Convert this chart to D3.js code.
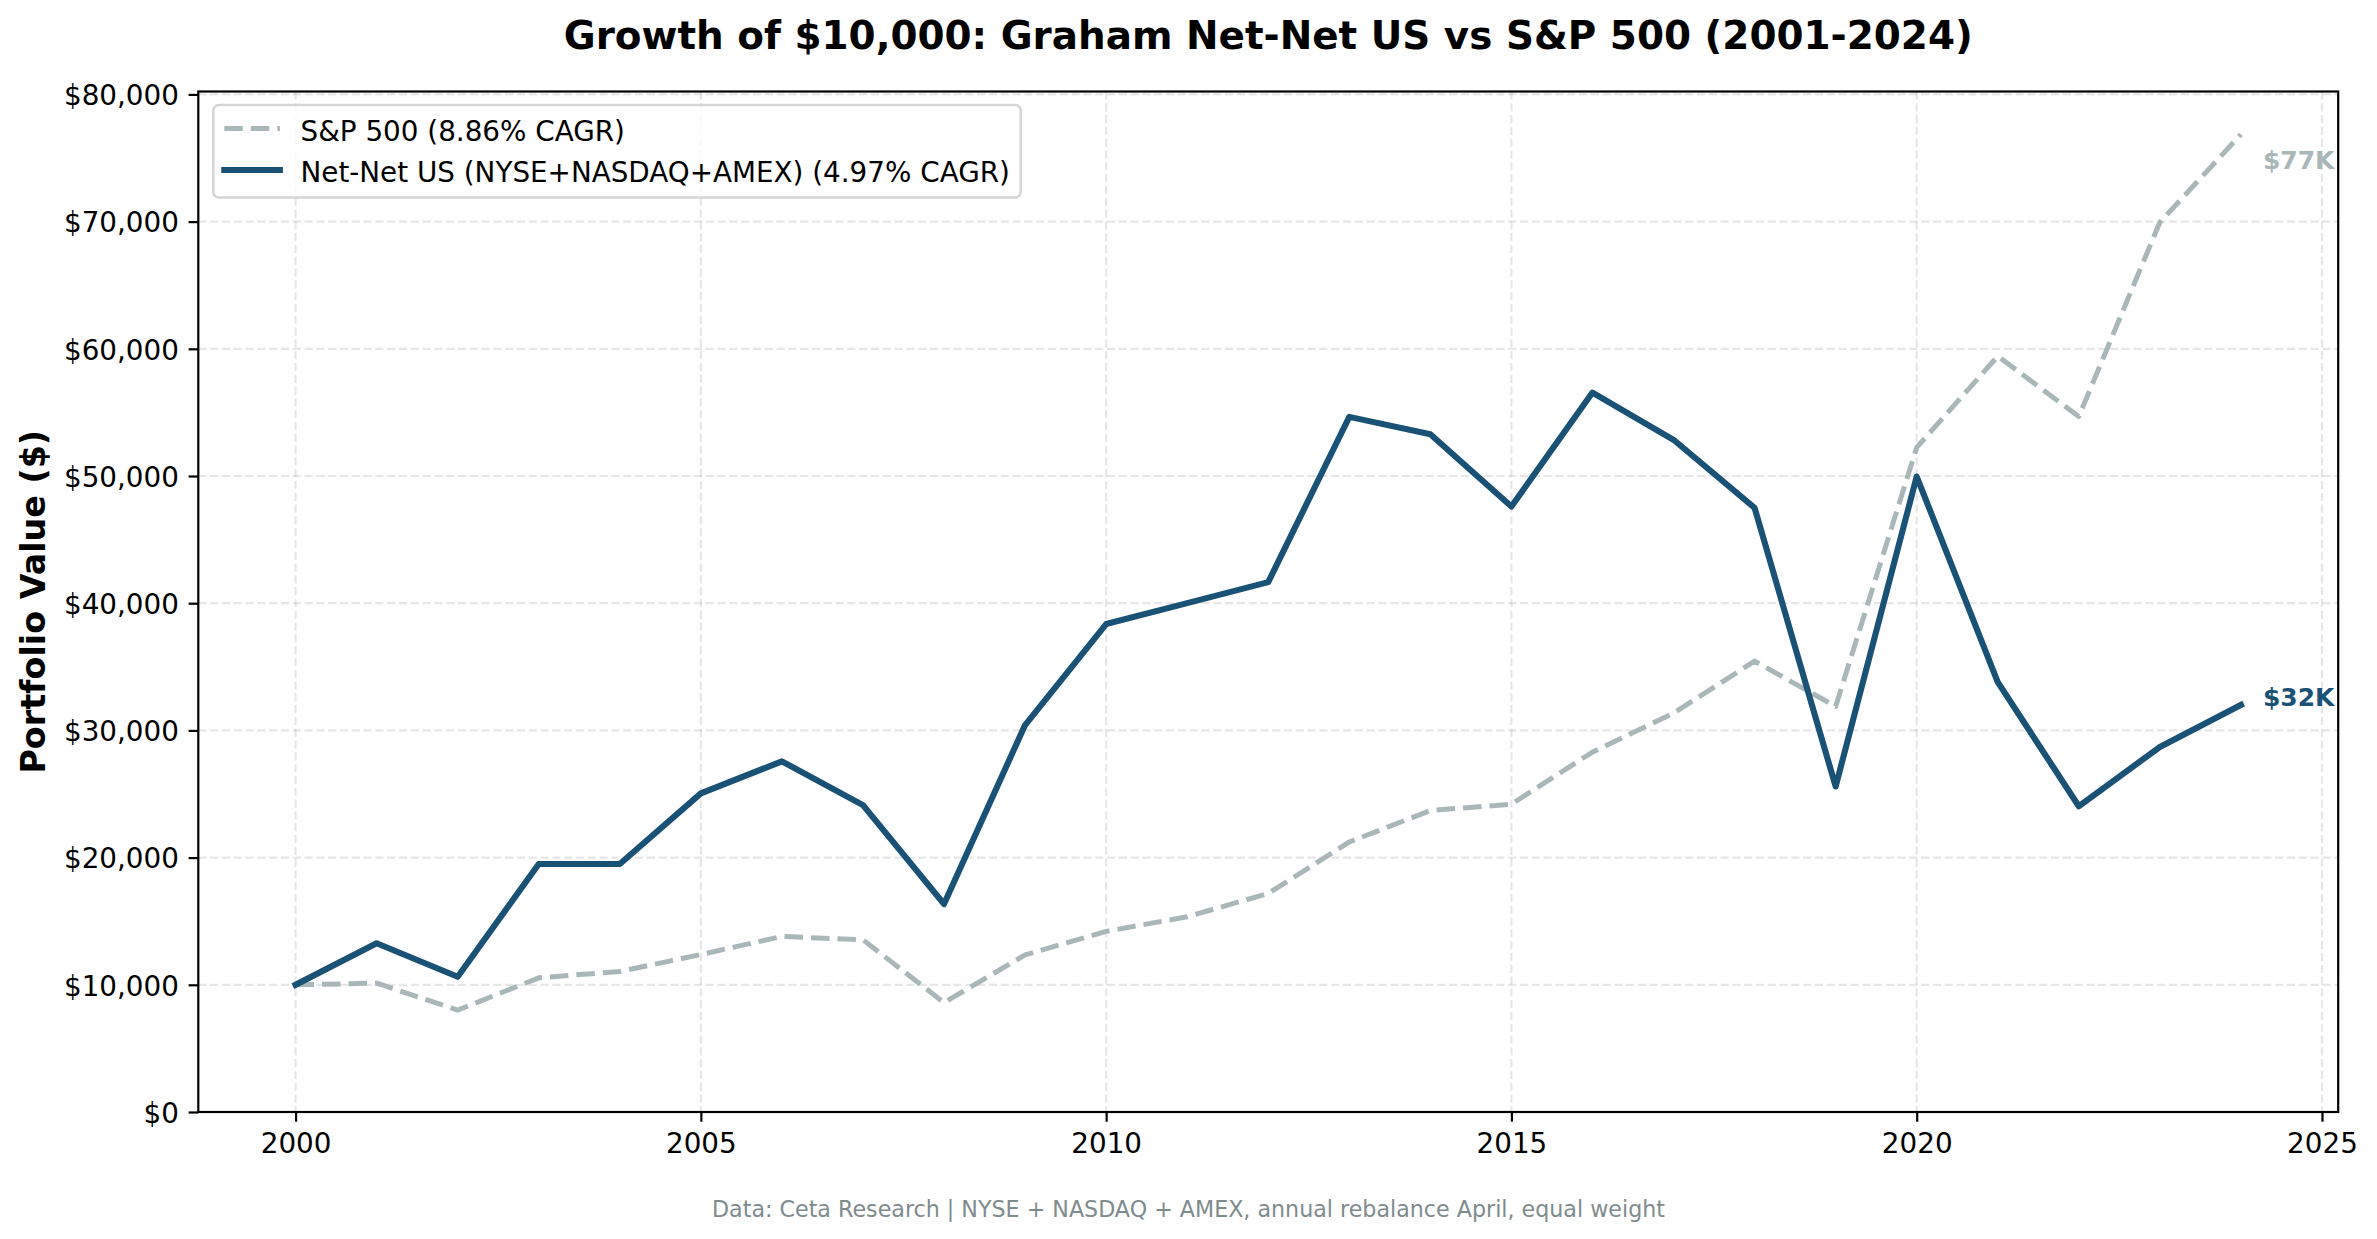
<!DOCTYPE html>
<html>
<head>
<meta charset="utf-8">
<script src="https://cdn.jsdelivr.net/npm/d3@7"></script>
<style>
  html, body { margin: 0; padding: 0; background: #fff; }
  svg { display: block; font-family: "DejaVu Sans", sans-serif; }
</style>
</head>
<body>
<svg id="chart" width="2377" height="1239"></svg>
<script>
// ---- data ----
const years = [2000, 2001, 2002, 2003, 2004, 2005, 2006, 2007, 2008, 2009, 2010, 2011, 2012,
               2013, 2014, 2015, 2016, 2017, 2018, 2019, 2020, 2021, 2022, 2023, 2024];
const netNet = [10000, 13270, 10630, 19500, 19500, 25050, 27570, 24130, 16350, 30420, 38360, 40010, 41660,
                54650, 53280, 47610, 56560, 52850, 47500, 25590, 49960, 33790, 24040, 28700, 32000];
const sp500 = [10000, 10130, 8010, 10550, 11050, 12380, 13800, 13540, 8600, 12350, 14200, 15350, 17180,
               21230, 23700, 24200, 28300, 31350, 35450, 31880, 52250, 59420, 54680, 69950, 76860];
const xTicks = [2000, 2005, 2010, 2015, 2020, 2025];
const yTicks = [0, 10000, 20000, 30000, 40000, 50000, 60000, 70000, 80000];
const seriesNames = ["S&P 500 (8.86% CAGR)", "Net-Net US (NYSE+NASDAQ+AMEX) (4.97% CAGR)"];
const endLabels = ["$77K", "$32K"];
const titleText = "Growth of $10,000: Graham Net-Net US vs S&P 500 (2001-2024)";
const yLabelText = "Portfolio Value ($)";
const footText = "Data: Ceta Research | NYSE + NASDAQ + AMEX, annual rebalance April, equal weight";

// ---- layout ----
const L = 198.3, R = 2338.2, T = 91.5, B = 1112;
const cNN = "#1a5276", cSP = "#aab7b8";
const svg = d3.select("#chart");

const x = d3.scaleLinear().domain([1998.8, 2025.2]).range([L, R]);
const y = d3.scaleLinear().domain([0, 80230]).range([B, T]);

// grid
const grid = svg.append("g");
grid.selectAll("line.vx").data(xTicks).join("line")
  .attr("x1", d => x(d)).attr("x2", d => x(d)).attr("y1", T).attr("y2", B)
  .attr("stroke", "#b0b0b0").attr("stroke-opacity", 0.3).attr("stroke-width", 2.2)
  .attr("stroke-dasharray", "8.2,3.6");
grid.selectAll("line.hy").data(yTicks).join("line")
  .attr("x1", L).attr("x2", R).attr("y1", d => y(d)).attr("y2", d => y(d))
  .attr("stroke", "#b0b0b0").attr("stroke-opacity", 0.3).attr("stroke-width", 2.2)
  .attr("stroke-dasharray", "8.2,3.6");

// lines
const line = (vals) => d3.line().x((d, i) => x(years[i])).y(d => y(d))(vals);
svg.append("path").attr("d", line(sp500)).attr("fill", "none")
  .attr("stroke", cSP).attr("stroke-width", 5).attr("stroke-dasharray", "18.5,8")
  .attr("stroke-linejoin", "round").attr("stroke-linecap", "butt");
svg.append("path").attr("d", line(netNet)).attr("fill", "none")
  .attr("stroke", cNN).attr("stroke-width", 6.1)
  .attr("stroke-linejoin", "round").attr("stroke-linecap", "square");

// end labels
const lastI = years.length - 1;
svg.append("text").attr("x", x(years[lastI]) + 22).attr("y", y(sp500[lastI]) + 35)
  .attr("fill", cSP).attr("font-weight", "bold").attr("font-size", 25).text(endLabels[0]);
svg.append("text").attr("x", x(years[lastI]) + 22).attr("y", y(netNet[lastI]) + 1)
  .attr("fill", cNN).attr("font-weight", "bold").attr("font-size", 25).text(endLabels[1]);

// axes
const xAxis = d3.axisBottom(x).tickValues(xTicks).tickFormat(d3.format("d"))
  .tickSize(9.7).tickPadding(9.7);
const yAxis = d3.axisLeft(y).tickValues(yTicks).tickFormat(d => "$" + d3.format(",")(d))
  .tickSize(9.7).tickPadding(9.7);
const gx = svg.append("g").attr("transform", `translate(0,${B})`).call(xAxis);
const gy = svg.append("g").attr("transform", `translate(${L},0)`).call(yAxis);
[gx, gy].forEach(g => {
  g.select(".domain").remove();
  g.selectAll(".tick line").attr("stroke", "#000").attr("stroke-width", 2.2);
  g.selectAll(".tick text").attr("fill", "#000").attr("font-size", 27.8)
    .attr("font-family", "DejaVu Sans");
});
gx.selectAll(".tick text").attr("dy", "0.76em");
gy.selectAll(".tick text").attr("dy", "0.37em");

// spines
svg.append("rect").attr("x", L).attr("y", T).attr("width", R - L).attr("height", B - T)
  .attr("fill", "none").attr("stroke", "#000").attr("stroke-width", 2.2);

// title / labels
svg.append("text").attr("x", (L + R) / 2).attr("y", 49).attr("text-anchor", "middle")
  .attr("font-size", 38.9).attr("font-weight", "bold").attr("fill", "#000").text(titleText);
svg.append("text").attr("transform", `translate(45,${(T + B) / 2}) rotate(-90)`)
  .attr("text-anchor", "middle").attr("font-size", 33.3).attr("font-weight", "bold")
  .attr("fill", "#000").text(yLabelText);
svg.append("text").attr("x", 2377 / 2).attr("y", 1216.7).attr("text-anchor", "middle")
  .attr("font-size", 22.2).attr("fill", "#7f8c8d").text(footText);

// legend
const lg = svg.append("g");
lg.append("rect").attr("x", 213.3).attr("y", 105).attr("width", 807.4).attr("height", 92.5)
  .attr("rx", 5.5).attr("fill", "#fff").attr("fill-opacity", 0.8)
  .attr("stroke", "#cccccc").attr("stroke-opacity", 0.8).attr("stroke-width", 2.5);
const rows = [
  { name: seriesNames[0], color: cSP, w: 5, dash: "18.5,8", cap: "butt", cy: 128.5, base: 140.7 },
  { name: seriesNames[1], color: cNN, w: 6.1, dash: null, cap: "square", cy: 170, base: 181.7 }
];
rows.forEach(r => {
  lg.append("line").attr("x1", 224.3).attr("x2", 279.9).attr("y1", r.cy).attr("y2", r.cy)
    .attr("stroke", r.color).attr("stroke-width", r.w)
    .attr("stroke-dasharray", r.dash).attr("stroke-linecap", r.cap);
  lg.append("text").attr("x", 300.5).attr("y", r.base).attr("font-size", 27.8)
    .attr("fill", "#000").text(r.name);
});
</script>
</body>
</html>
